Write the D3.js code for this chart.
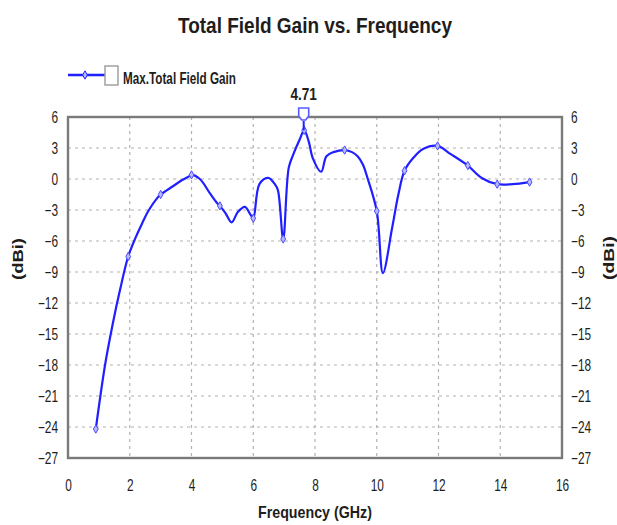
<!DOCTYPE html>
<html>
<head>
<meta charset="utf-8">
<script src="https://cdn.jsdelivr.net/npm/d3@7"></script>
<style>
  body { margin: 0; background: #fff; }
  text { font-family: "Liberation Sans", Arial, sans-serif; fill: #221d1a; }
</style>
</head>
<body>
<svg id="chart" width="617" height="525"></svg>
<script>
// frequency samples (GHz) and total field gain (dBi)
const freq = [0.9, 1.2, 1.45, 1.68, 1.95, 2.2, 2.4, 2.6, 2.9, 3.0, 3.4, 3.7, 3.95, 4.0, 4.27, 4.6, 4.82, 4.92, 5.1, 5.3, 5.5, 5.73, 5.9, 6.0, 6.2, 6.48, 6.7, 6.8, 6.97, 7.15, 7.3, 7.5, 7.65, 7.8, 7.93, 8.2, 8.37, 8.6, 8.96, 9.2, 9.38, 9.55, 9.7, 10.0, 10.2, 10.5, 10.7, 10.9, 11.2, 11.5, 11.97, 12.4, 12.95, 13.4, 13.9, 14.4, 14.95];
const gain = [-24.2, -18.0, -14.0, -10.8, -7.5, -5.6, -4.3, -3.1, -1.8, -1.5, -0.7, -0.1, 0.3, 0.4, 0.0, -1.4, -2.3, -2.6, -3.3, -4.2, -3.2, -2.7, -3.4, -3.8, -0.5, 0.1, -0.5, -1.1, -5.8, 1.1, 2.4, 3.8, 4.71, 3.6, 2.0, 0.7, 2.2, 2.6, 2.8, 2.6, 2.2, 1.4, 0.1, -3.1, -9.1, -4.7, -1.5, 0.8, 2.1, 2.9, 3.2, 2.4, 1.3, 0.1, -0.5, -0.5, -0.3];
const markerFreqs = [0.9, 1.95, 3.0, 4.0, 4.92, 6.0, 6.97, 7.65, 8.96, 10.0, 10.9, 11.97, 12.95, 13.9, 14.95];

const xTicks = [0, 2, 4, 6, 8, 10, 12, 14, 16];
const yTicks = [6, 3, 0, -3, -6, -9, -12, -15, -18, -21, -24, -27];

const peakFreq = 7.65;
const peakLabel = "4.71";
const titleText = "Total Field Gain vs. Frequency";
const legendText = "Max.Total Field Gain";
const xTitle = "Frequency (GHz)";
const yTitle = "(dBi)";

const svg = d3.select('#chart');
const margin = { left: 68, right: 55, top: 117, bottom: 67 };
const W = 617, H = 525;

const x = d3.scaleLinear().domain([0, 16]).range([margin.left, W - margin.right]);
const y = d3.scaleLinear().domain([-27, 6]).range([H - margin.bottom, margin.top]);

const blue = '#1f1fff';

// squeeze text horizontally to mimic a narrow font
function narrow(sel, factor) {
    sel.each(function () {
        const len = this.getComputedTextLength();
        d3.select(this)
            .attr('textLength', len * factor)
            .attr('lengthAdjust', 'spacingAndGlyphs');
    });
}

// grid
svg.append('g')
    .selectAll('line')
    .data(xTicks.slice(1, -1))
    .join('line')
    .attr('x1', d => x(d)).attr('x2', d => x(d))
    .attr('y1', y(6)).attr('y2', y(-27))
    .attr('stroke', '#b5b0ae').attr('stroke-width', 1.2)
    .attr('stroke-dasharray', '3,4');

svg.append('g')
    .selectAll('line')
    .data(yTicks.slice(1, -1))
    .join('line')
    .attr('x1', x(0)).attr('x2', x(16))
    .attr('y1', d => y(d)).attr('y2', d => y(d))
    .attr('stroke', '#b5b0ae').attr('stroke-width', 1.2)
    .attr('stroke-dasharray', '3,4');

// frame
svg.append('rect')
    .attr('x', x(0)).attr('y', y(6))
    .attr('width', x(16) - x(0)).attr('height', y(-27) - y(6))
    .attr('fill', 'none').attr('stroke', '#7a7a7a').attr('stroke-width', 2.4);

// axes
const xAxis = svg.append('g')
    .attr('transform', `translate(0,${y(-27) + 14})`)
    .call(d3.axisBottom(x).tickValues(xTicks).tickSize(0).tickPadding(8));
const yAxisL = svg.append('g')
    .attr('transform', `translate(${x(0) - 10},0)`)
    .call(d3.axisLeft(y).tickValues(yTicks).tickSize(0).tickPadding(0));
const yAxisR = svg.append('g')
    .attr('transform', `translate(${x(16) + 9},0)`)
    .call(d3.axisRight(y).tickValues(yTicks).tickSize(0).tickPadding(0));

[xAxis, yAxisL, yAxisR].forEach(a => {
    a.select('.domain').remove();
    a.selectAll('text')
        .style('font-size', '16px')
        .style('font-family', '"Liberation Sans", Arial, sans-serif')
        .attr('fill', '#221d1a')
        .call(narrow, 0.74);
});

// curve
const pts = freq.map((f, i) => [f, gain[i]]);
const line = d3.line()
    .x(d => x(d[0]))
    .y(d => y(d[1]))
    .curve(d3.curveCatmullRom.alpha(0.5));

svg.append('path')
    .datum(pts)
    .attr('fill', 'none')
    .attr('stroke', blue)
    .attr('stroke-width', 2.2)
    .attr('d', line);

// diamond markers
const diamond = d3.symbol().type(d3.symbolDiamond).size(20);
svg.append('g')
    .selectAll('path')
    .data(pts.filter(d => markerFreqs.includes(d[0])))
    .join('path')
    .attr('transform', d => `translate(${x(d[0])},${y(d[1])})`)
    .attr('d', diamond)
    .attr('fill', '#b8b8ff')
    .attr('stroke', '#4a4aff')
    .attr('stroke-width', 1);

// peak marker
const peakGain = gain[freq.indexOf(peakFreq)];
const px = x(peakFreq) - 0.5, py = y(6) - 2;
svg.append('line')
    .attr('x1', px).attr('x2', px)
    .attr('y1', py + 6).attr('y2', y(peakGain))
    .attr('stroke', blue).attr('stroke-width', 2);
svg.append('path')
    .attr('d', `M${px - 5},${py - 7} L${px + 5},${py - 7} L${px + 5},${py + 1} L${px + 2},${py + 5} L${px - 2},${py + 5} L${px - 5},${py + 1} Z`)
    .attr('fill', '#fff')
    .attr('stroke', '#5a5aff')
    .attr('stroke-width', 1.6);
svg.append('text')
    .attr('x', px).attr('y', 100)
    .attr('text-anchor', 'middle')
    .style('font-size', '17px').style('font-weight', 'bold')
    .text(peakLabel)
    .call(narrow, 0.8);

// title
svg.append('text')
    .attr('x', 315).attr('y', 33)
    .attr('text-anchor', 'middle')
    .style('font-size', '22px').style('font-weight', 'bold')
    .attr('textLength', 274).attr('lengthAdjust', 'spacingAndGlyphs')
    .text(titleText);

// legend
svg.append('line')
    .attr('x1', 68).attr('x2', 106).attr('y1', 75).attr('y2', 75)
    .attr('stroke', blue).attr('stroke-width', 2.4);
svg.append('path')
    .attr('transform', 'translate(85,75)')
    .attr('d', diamond)
    .attr('fill', '#b8b8ff').attr('stroke', blue).attr('stroke-width', 1);
svg.append('rect')
    .attr('x', 105).attr('y', 66).attr('width', 13).attr('height', 19)
    .attr('fill', '#fff').attr('stroke', '#9a9a9a').attr('stroke-width', 1.4);
svg.append('text')
    .attr('x', 123).attr('y', 84)
    .style('font-size', '17px').style('font-weight', 'bold')
    .attr('textLength', 113).attr('lengthAdjust', 'spacingAndGlyphs')
    .text(legendText);

// axis titles
svg.append('text')
    .attr('x', 315).attr('y', 518)
    .attr('text-anchor', 'middle')
    .style('font-size', '17px').style('font-weight', 'bold')
    .attr('textLength', 114).attr('lengthAdjust', 'spacingAndGlyphs')
    .text(xTitle);
svg.append('text')
    .attr('transform', `translate(23,259) rotate(-90)`)
    .attr('text-anchor', 'middle')
    .style('font-size', '15px').style('font-weight', 'bold')
    .attr('textLength', 42).attr('lengthAdjust', 'spacingAndGlyphs')
    .text(yTitle);
svg.append('text')
    .attr('transform', `translate(614,258) rotate(-90)`)
    .attr('text-anchor', 'middle')
    .style('font-size', '14px').style('font-weight', 'bold')
    .attr('textLength', 44).attr('lengthAdjust', 'spacingAndGlyphs')
    .text(yTitle);
</script>
</body>
</html>
